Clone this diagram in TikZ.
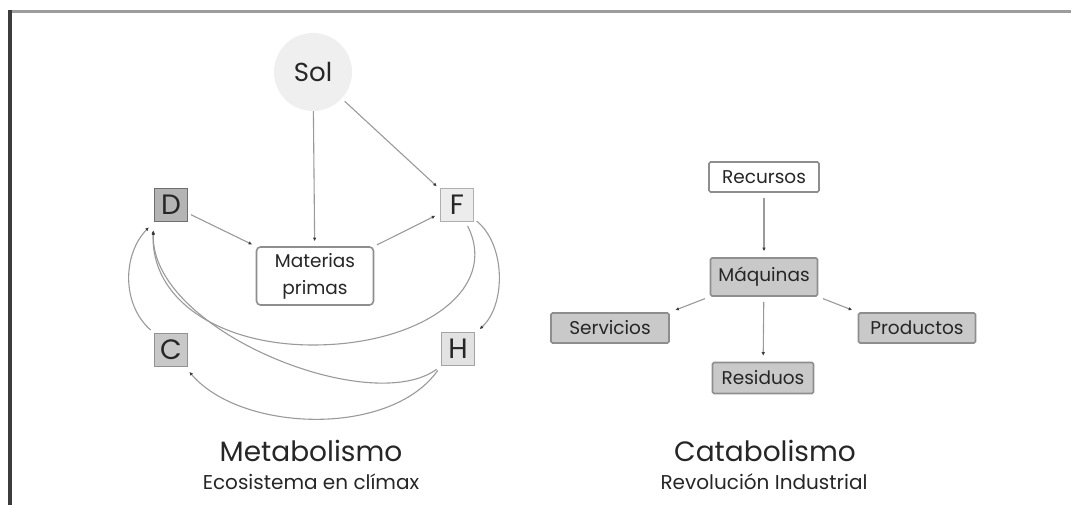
\documentclass[tikz,border=0pt]{standalone}
\usepackage{fontspec}
\setmainfont{Poppins}
\usetikzlibrary{arrows.meta}
\definecolor{linegray}{HTML}{9A9A9A}
\definecolor{tipgray}{HTML}{3A3A3A}
\definecolor{txt}{HTML}{262626}
\definecolor{topframe}{HTML}{9C9C9C}
\definecolor{leftframe}{HTML}{3C3C3C}
\definecolor{sunfill}{HTML}{EFEFEF}
\definecolor{boxgray}{HTML}{C9C9C9}
\definecolor{boxborder}{HTML}{8E8E8E}
\definecolor{dfill}{HTML}{B4B4B4}
\definecolor{dborder}{HTML}{6E6E6E}
\definecolor{cfill}{HTML}{C8C8C8}
\definecolor{cborder}{HTML}{929292}
\definecolor{ffill}{HTML}{ECECEC}
\definecolor{fborder}{HTML}{AFAFAF}
\definecolor{hfill}{HTML}{E2E2E2}
\definecolor{hborder}{HTML}{A4A4A4}
\tikzset{
  sun/.style={circle, fill=sunfill, minimum size=78pt, inner sep=0pt, text=txt,
    font=\fontsize{26}{28}\selectfont},
  letterbox/.style={draw, line width=1.6pt, minimum size=33pt, inner sep=0pt, text=txt,
    font=\fontsize{28}{28}\selectfont},
  mpbox/.style={draw=boxborder, fill=white, line width=1.6pt, rounded corners=4pt,
    minimum width=117pt, minimum height=58pt, align=center, text=txt, inner sep=0pt,
    font=\fontsize{18.5}{27}\selectfont},
  rbox/.style={draw=boxborder, line width=1.6pt, rounded corners=1.5pt, inner sep=0pt,
    minimum height=30pt, text=txt, font=\fontsize{18.5}{20}\selectfont},
  title/.style={text=txt, inner sep=0pt, font=\fontsize{28}{30}\selectfont},
  subtitle/.style={text=txt, inner sep=0pt, font=\fontsize{20}{22}\selectfont},
  arr/.style={draw=linegray, line width=1.1pt,
    -{Latex[length=3.5pt,width=3.5pt,color=tipgray]}},
}
\begin{document}
\begin{tikzpicture}[x=1pt,y=-1pt]
\useasboundingbox (0,0) rectangle (1071,505);
\fill[white] (0,0) rectangle (1071,505);
% frame
\draw[topframe, line width=3pt] (8,11.5) -- (1071,11.5);
\draw[leftframe, line width=4pt] (10,10) -- (10,505);

% ---- Metabolismo ----
\node[sun] (sol) at (313,72) {Sol};
\node[letterbox, fill=dfill, draw=dborder] (D) at (171,205) {D};
\node[letterbox, fill=ffill, draw=fborder] (F) at (457,205) {F};
\node[letterbox, fill=cfill, draw=cborder] (C) at (171,350) {C};
\node[letterbox, fill=hfill, draw=hborder] (H) at (458,349) {H};
\node[mpbox] (mp) at (315,276) {Materias\\primas};

\draw[arr, shorten >=5pt] (sol) -- (mp);
\draw[arr, shorten <=4pt, shorten >=4pt] (sol) -- (F);
\draw[arr, shorten <=3pt, shorten >=4pt] (D) -- (mp.north west);
\draw[arr, shorten <=3pt, shorten >=5pt] (mp.north east) -- (F);
\draw[arr, shorten <=3pt, shorten >=6pt] (F) .. controls (506,245) and (506,305) .. (H);
\draw[arr, shorten <=4pt, shorten >=8pt] (F) .. controls (500,290) and (420,345) .. (313,345)
   .. controls (220,345) and (150,300) .. (D.south west);
\draw[arr, shorten <=5pt, shorten >=9pt] (H.south west) .. controls (370,418) and (150,330) .. (D.south west);
\draw[arr, shorten <=4pt, shorten >=7pt] (C.north west) .. controls (122,305) and (122,255) .. (D.south west);
\draw[arr, shorten <=5pt, shorten >=6pt] (H.south west) .. controls (390,438) and (240,432) .. (C);

\node[title] (met) at (311,451) {Metabolismo};
\node[subtitle] (eco) at (311,482) {Ecosistema en clímax};

% ---- Catabolismo ----
\node[rbox, fill=white, minimum width=110pt] (rec) at (764,177) {Recursos};
\node[rbox, fill=boxgray, minimum width=107pt, minimum height=38pt] (maq) at (764,277) {Máquinas};
\node[rbox, fill=boxgray, minimum width=118pt] (serv) at (610,328) {Servicios};
\node[rbox, fill=boxgray, minimum width=117pt] (prod) at (917,328) {Productos};
\node[rbox, fill=boxgray, minimum width=101pt, minimum height=31pt] (res) at (763,378) {Residuos};

\draw[arr, shorten <=5pt, shorten >=6pt] (rec) -- (maq);
\draw[arr, shorten <=5pt, shorten >=6pt] (maq) -- (res);
\draw[arr, shorten <=5pt, shorten >=6pt] (maq.south west) -- (serv.north east);
\draw[arr, shorten <=5pt, shorten >=6pt] (maq.south east) -- (prod.north west);

\node[title] (cat) at (765,451) {Catabolismo};
\node[subtitle] (rev) at (764,482) {Revolución Industrial};
\end{tikzpicture}
\end{document}
